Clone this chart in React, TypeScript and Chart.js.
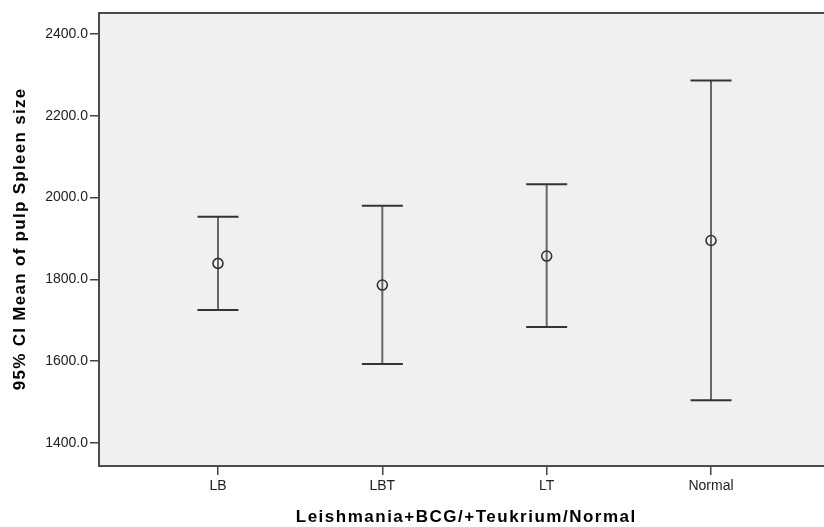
import React, { useEffect, useRef } from "react";
import { Chart, registerables } from "chart.js";
Chart.register(...registerables);

const categories = ["LB", "LBT", "LT", "Normal"];
const means = [1839, 1786, 1857, 1895];
const lowerCI = [1725, 1593, 1683, 1504];
const upperCI = [1953, 1980, 2033, 2287];
const yTicks = [1400, 1600, 1800, 2000, 2200, 2400];
const xTitle = "Leishmania+BCG/+Teukrium/Normal";
const yTitle = "95% CI Mean of pulp Spleen size";

const FONT = "Arial, 'Liberation Sans', sans-serif";

function drawSpacedText(ctx: any, text: string, x: number, y: number, spacing: number) {
  ctx.letterSpacing = spacing + "px";
  const w = ctx.measureText(text).width - spacing;
  ctx.textAlign = "left";
  ctx.fillText(text, x - w / 2, y);
}

const plotPlugin = {
  id: "spssPlot",
  beforeDraw(chart: any) {
    const { ctx, chartArea: a } = chart;
    ctx.save();
    ctx.fillStyle = "#f0f0f0";
    ctx.fillRect(a.left, a.top, a.right - a.left, a.bottom - a.top);
    ctx.restore();
  },
  beforeDatasetsDraw(chart: any) {
    const { ctx } = chart;
    const xs = chart.scales.x;
    const ys = chart.scales.y;
    ctx.save();
    categories.forEach((_, i) => {
      const x = xs.getPixelForValue(i + 1);
      const yl = ys.getPixelForValue(lowerCI[i]);
      const yu = ys.getPixelForValue(upperCI[i]);
      ctx.strokeStyle = "#666666";
      ctx.lineWidth = 2;
      ctx.beginPath();
      ctx.moveTo(x, yu);
      ctx.lineTo(x, yl);
      ctx.stroke();
      ctx.strokeStyle = "#333333";
      ctx.lineWidth = 2;
      ctx.beginPath();
      ctx.moveTo(x - 20.5, yu);
      ctx.lineTo(x + 20.5, yu);
      ctx.moveTo(x - 20.5, yl);
      ctx.lineTo(x + 20.5, yl);
      ctx.stroke();
    });
    ctx.restore();
  },
  afterDraw(chart: any) {
    const { ctx, chartArea: a } = chart;
    ctx.save();
    ctx.strokeStyle = "#4a4a4a";
    ctx.lineWidth = 2;
    ctx.strokeRect(a.left, a.top, a.right - a.left, a.bottom - a.top);
    ctx.restore();

    ctx.save();
    ctx.fillStyle = "#000000";
    ctx.font = "bold 17px " + FONT;
    ctx.textBaseline = "middle";
    drawSpacedText(ctx, xTitle, (a.left + a.right) / 2 + 1, 517, 1.5);
    ctx.translate(20, (a.top + a.bottom) / 2);
    ctx.rotate(-Math.PI / 2);
    drawSpacedText(ctx, yTitle, 0, 0, 1.3);
    ctx.restore();
  },
};

export default function App() {
  const ref = useRef<HTMLCanvasElement>(null);
  useEffect(() => {
    if (!ref.current) return;
    const chart = new Chart(ref.current, {
      type: "scatter",
      data: {
        datasets: [
          {
            label: "Mean",
            data: means.map((m, i) => ({ x: i + 1, y: m })),
            pointStyle: "circle",
            pointRadius: 5,
            pointBorderWidth: 1.6,
            borderColor: "#333333",
            backgroundColor: "rgba(0,0,0,0)",
          },
        ],
      },
      options: {
        responsive: false,
        animation: false,
        devicePixelRatio: 1,
        layout: { padding: { left: 0, top: 13, right: 10, bottom: 0 } },
        plugins: {
          legend: { display: false },
          tooltip: { enabled: false },
        },
        scales: {
          x: {
            type: "linear",
            min: 0.276,
            max: 4.724,
            afterBuildTicks: (scale: any) => {
              scale.ticks = categories.map((_, i) => ({ value: i + 1 }));
            },
            afterFit: (scale: any) => {
              scale.height = 61;
            },
            grid: {
              display: true,
              drawOnChartArea: false,
              drawTicks: true,
              tickLength: 9,
              color: "#444444",
              lineWidth: 1.5,
            },
            border: { display: false },
            ticks: {
              autoSkip: false,
              maxRotation: 0,
              padding: 3,
              color: "#222222",
              font: { family: FONT, size: 14 },
              callback: (_v: any, index: number) => categories[index],
            },
            title: { display: false },
          },
          y: {
            type: "linear",
            min: 1343,
            max: 2452,
            afterBuildTicks: (scale: any) => {
              scale.ticks = yTicks.map((v) => ({ value: v }));
            },
            afterFit: (scale: any) => {
              scale.width = 99;
            },
            grid: {
              display: true,
              drawOnChartArea: false,
              drawTicks: true,
              tickLength: 9,
              color: "#444444",
              lineWidth: 1.5,
            },
            border: { display: false },
            ticks: {
              autoSkip: false,
              padding: 2,
              color: "#222222",
              font: { family: FONT, size: 14 },
              callback: (v: any) => Number(v).toFixed(1),
            },
            title: { display: false },
          },
        },
      },
      plugins: [plotPlugin],
    } as any);
    return () => chart.destroy();
  }, []);
  return (
    <div
      style={{
        position: "fixed",
        left: 0,
        top: 0,
        width: 824,
        height: 527,
        overflow: "hidden",
        background: "#ffffff",
      }}
    >
      <canvas ref={ref} width={840} height={527} style={{ display: "block", width: 840, height: 527 }} />
    </div>
  );
}
